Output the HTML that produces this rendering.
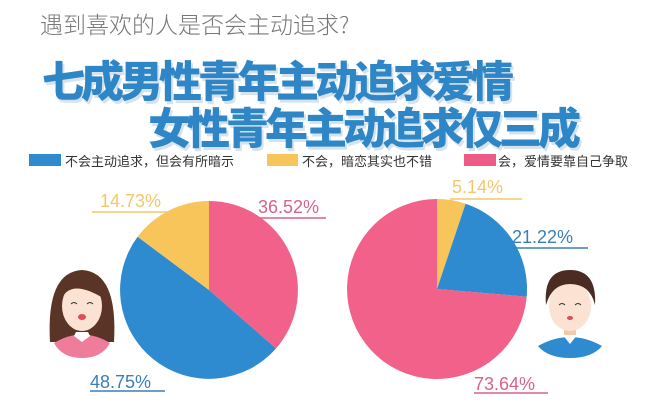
<!DOCTYPE html>
<html><head><meta charset="utf-8"><style>
body{margin:0;width:650px;height:404px;background:#fff;overflow:hidden;position:relative;font-family:"Liberation Sans","Noto Sans CJK SC",sans-serif}
.t{position:absolute;white-space:nowrap}
.h{position:absolute;white-space:nowrap;font-family:"Noto Sans CJK SC",sans-serif;font-weight:900;color:#2f86c6;font-size:43px;letter-spacing:-4px;text-shadow:2px 3px 0 #d6e3ee,-1px -1px 0 #fff}
.lg{position:absolute;font-size:13px;color:#333;top:151px;white-space:nowrap}
</style></head><body>
<div class="t" style="left:40px;top:6px;font-size:23px;color:#777;font-family:'Noto Sans CJK SC',sans-serif;font-weight:300">遇到喜欢的人是否会主动追求?</div>
<div class="h" style="left:42px;top:48px">七成男性青年主动追求爱情</div>
<div class="h" style="left:148px;top:95px">女性青年主动追求仅三成</div>
<div style="position:absolute;left:29px;top:154px;width:32px;height:12px;background:#2e8bd0"></div>
<div class="lg" style="left:65px">不会主动追求，但会有所暗示</div>
<div style="position:absolute;left:267px;top:154px;width:31px;height:12px;background:#f8c55a"></div>
<div class="lg" style="left:302px">不会，暗恋其实也不错</div>
<div style="position:absolute;left:464px;top:154px;width:32px;height:12px;background:#ee5a86"></div>
<div class="lg" style="left:498px">会，爱情要靠自己争取</div>
<svg width="650" height="404" style="position:absolute;left:0;top:0">
<g transform="translate(209,290)">
<path d="M0,0 L0,-89 A89,89 0 0,1 67,58.5 Z" fill="#f26189"/>
<path d="M0,0 L67,58.5 A89,89 0 0,1 -71.4,-53.2 Z" fill="#2e8bd0"/>
<path d="M0,0 L-71.4,-53.2 A89,89 0 0,1 0,-89 Z" fill="#f8c55a"/>
</g>
<g transform="translate(437,289)">
<path d="M0,0 L0,-90 A90,90 0 0,1 28.6,-85.3 Z" fill="#f8c55a"/>
<path d="M0,0 L28.6,-85.3 A90,90 0 0,1 89.7,7.7 Z" fill="#2e8bd0"/>
<path d="M0,0 L89.7,7.7 A90,90 0 1,1 0,-90 Z" fill="#f26189"/>
</g>
<g font-family="Liberation Sans,sans-serif" font-size="18">
<text x="100" y="207" fill="#f3c86a">14.73%</text><line x1="92" y1="212" x2="170" y2="212" stroke="#f3c86a" stroke-width="1.5"/>
<text x="258" y="213" fill="#d9628c">36.52%</text><line x1="258" y1="218" x2="326" y2="218" stroke="#d9628c" stroke-width="1.5"/>
<text x="90" y="388" fill="#3a7fb8">48.75%</text><line x1="90" y1="391" x2="165" y2="391" stroke="#3a7fb8" stroke-width="1.5"/>
<text x="452" y="193" fill="#f3c86a">5.14%</text><line x1="450" y1="199" x2="522" y2="199" stroke="#f3c86a" stroke-width="1.5"/>
<text x="512" y="243" fill="#3a7fb8">21.22%</text><line x1="513" y1="248" x2="588" y2="248" stroke="#3a7fb8" stroke-width="1.5"/>
<text x="474" y="390" fill="#d9628c">73.64%</text><line x1="474" y1="393" x2="548" y2="393" stroke="#d9628c" stroke-width="1.5"/>
</g>
<g>
<path d="M50,342 Q46,272 82,270 Q118,272 114,342 Z" fill="#5a3426"/>
<path d="M54,343 Q82,326 110,343 Q102,358 82,358 Q62,358 54,343 Z" fill="#ee7c9a"/>
<path d="M74,336 L82,342 L90,336 L88,332 L76,332 Z" fill="#fff"/>
<ellipse cx="82" cy="306" rx="20" ry="25" fill="#fbe2d2"/>
<path d="M61,300 Q70,278 103,298 Q98,276 82,276 Q62,278 61,300 Z" fill="#5a3426"/>
<path d="M71,304 q3,-3 6,0 M87,304 q3,-3 6,0" stroke="#333" fill="none"/>
<ellipse cx="82" cy="317" rx="4" ry="3" fill="#e04a5a"/>
</g>
<g>
<path d="M538,346 Q570,328 602,346 Q592,358 570,358 Q548,358 538,346 Z" fill="#2e8bd0"/>
<path d="M562,334 L570,344 L578,334 Z" fill="#fff"/>
<rect x="564" y="325" width="12" height="10" fill="#f3c9a8"/>
<ellipse cx="570" cy="306" rx="21" ry="25" fill="#fbe2d2"/>
<path d="M546,305 Q543,270 570,270 Q597,270 595,305 Q590,284 570,284 Q552,284 546,305 Z" fill="#4a2c22"/>
<path d="M559,305 q3,-3 6,0 M575,305 q3,-3 6,0" stroke="#333" fill="none"/>
<ellipse cx="570" cy="318" rx="3" ry="2" fill="#e04a5a"/>
</g>
</svg>
</body></html>
